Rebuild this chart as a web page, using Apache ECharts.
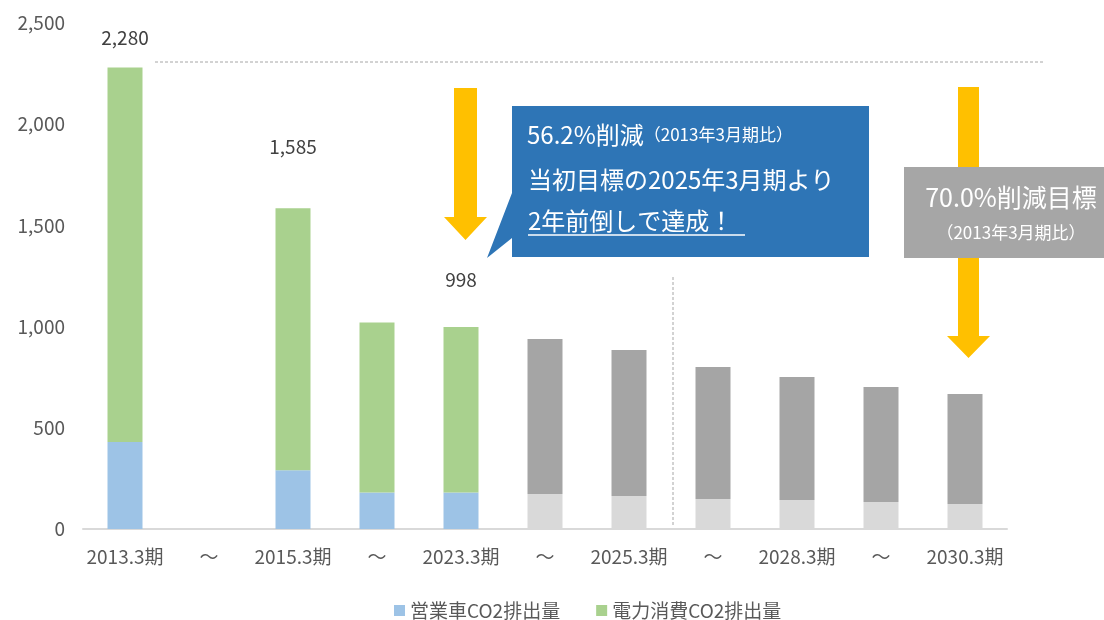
<!DOCTYPE html>
<html>
<head>
<meta charset="utf-8">
<script src="https://cdn.jsdelivr.net/npm/echarts@6/dist/echarts.min.js"></script>
<style>
  html, body { margin: 0; padding: 0; background: #fff; }
  #chart { width: 1104px; height: 620px; }
</style>
</head>
<body>
<div id="chart"></div>
<script>
// 期ごとのCO2排出量（実績）
const categories = ['2013.3期', '～', '2015.3期', '～', '2023.3期', '～', '2025.3期', '～', '2028.3期', '～', '2030.3期'];
const vehicleCO2 = [430, '-', 290, 180, 180, '-', '-', '-', '-', '-', '-'];
const powerCO2 = [1850, '-', 1295, 840, 818, '-', '-', '-', '-', '-', '-'];
// 見通し（グレー）
const vehicleForecast = ['-', '-', '-', '-', '-', 173, 163, 148, 143, 133, 124];
const powerForecast = ['-', '-', '-', '-', '-', 766, 721, 652, 608, 569, 543];
// 合計ラベル
const totalLabels = ['2,280', '', '1,585', '', '998', '', '', '', '', '', ''];

const FONT = '"Noto Sans CJK JP", "Noto Sans", sans-serif';
const labelLift = [15, 0, 47, 0, 33, 0, 0, 0, 0, 0, 0];

const chart = echarts.init(document.getElementById('chart'));

const powerData = powerCO2.map((v, i) => totalLabels[i] ? {
  value: v,
  label: {
    show: true,
    position: 'top',
    formatter: totalLabels[i],
    offset: [0, -labelLift[i]],
    color: '#404040',
    fontSize: 19,
    fontFamily: FONT
  }
} : v);

chart.setOption({
  animation: false,
  textStyle: { fontFamily: FONT },
  grid: { left: 83, right: 97, top: 23, bottom: 91 },
  legend: {
    data: ['営業車CO2排出量', '電力消費CO2排出量'],
    left: 389,
    top: 596,
    icon: 'rect',
    itemWidth: 11,
    itemHeight: 11,
    itemGap: 36,
    textStyle: { color: '#595959', fontSize: 19, fontFamily: FONT }
  },
  xAxis: {
    type: 'category',
    data: categories,
    axisLine: { lineStyle: { color: '#d9d9d9', width: 2 } },
    axisTick: { show: false },
    axisLabel: { color: '#595959', fontSize: 19, margin: 18, interval: 0 }
  },
  yAxis: {
    type: 'value',
    min: 0,
    max: 2500,
    interval: 500,
    splitLine: { show: false },
    axisLine: { show: false },
    axisTick: { show: false },
    axisLabel: {
      color: '#595959',
      fontSize: 19,
      margin: 18,
      formatter: v => v.toLocaleString('en-US')
    }
  },
  series: [
    { name: '営業車CO2排出量', type: 'bar', stack: 'co2', barWidth: 35,
      itemStyle: { color: '#9DC3E6' }, data: vehicleCO2 },
    { name: '電力消費CO2排出量', type: 'bar', stack: 'co2', barWidth: 35,
      itemStyle: { color: '#A9D18E' }, data: powerData },
    { name: '営業車（見通し）', type: 'bar', stack: 'co2', barWidth: 35,
      itemStyle: { color: '#D9D9D9' }, data: vehicleForecast },
    { name: '電力消費（見通し）', type: 'bar', stack: 'co2', barWidth: 35,
      itemStyle: { color: '#A5A5A5' }, data: powerForecast }
  ],
  graphic: [
    // 2013年3月期の水準線
    { type: 'line', shape: { x1: 155, y1: 62, x2: 1045, y2: 62 }, z: 10,
      style: { stroke: '#a6a6a6', lineWidth: 1, lineDash: [3, 2] } },
    // 実績と見通しの境目
    { type: 'line', shape: { x1: 673, y1: 277, x2: 673, y2: 527 }, z: 10,
      style: { stroke: '#a6a6a6', lineWidth: 1, lineDash: [3, 2] } },
    // 矢印1
    { type: 'polygon', z: 10,
      shape: { points: [[454, 88], [477, 88], [477, 217], [487, 217], [465.5, 240], [444, 217], [454, 217]] },
      style: { fill: '#FFC000' } },
    // 矢印2
    { type: 'polygon', z: 10,
      shape: { points: [[958, 87], [979, 87], [979, 336], [990, 336], [968.5, 358], [947, 336], [958, 336]] },
      style: { fill: '#FFC000' } },
    // 吹き出し（青）
    { type: 'polygon', z: 11,
      shape: { points: [[512, 106], [869, 106], [869, 257], [512, 257], [512, 238], [487, 258], [512, 193]] },
      style: { fill: '#2E75B6' } },
    { type: 'text', z: 12, x: 527, y: 135,
      style: {
        text: '{a|56.2%削減}{b|（2013年3月期比）}',
        verticalAlign: 'middle',
        rich: {
          a: { fill: '#fff', fontSize: 24, fontFamily: FONT },
          b: { fill: '#fff', fontSize: 17, fontFamily: FONT }
        }
      } },
    { type: 'text', z: 12, x: 528, y: 180,
      style: { text: '当初目標の2025年3月期より', fill: '#fff', fontSize: 24, fontFamily: FONT, verticalAlign: 'middle' } },
    { type: 'text', z: 12, x: 528, y: 221,
      style: { text: '2年前倒しで達成！', fill: '#fff', fontSize: 24, fontFamily: FONT, verticalAlign: 'middle' } },
    { type: 'line', z: 12, shape: { x1: 528, y1: 235, x2: 745, y2: 235 },
      style: { stroke: '#fff', lineWidth: 1.5 } },
    // 目標ボックス（グレー）
    { type: 'rect', z: 11, shape: { x: 904, y: 167, width: 200, height: 91 },
      style: { fill: '#A6A6A6' } },
    { type: 'text', z: 12, x: 1011, y: 197,
      style: { text: '70.0%削減目標', fill: '#fff', fontSize: 25, fontFamily: FONT, align: 'center', verticalAlign: 'middle' } },
    { type: 'text', z: 12, x: 1011, y: 233,
      style: { text: '（2013年3月期比）', fill: '#fff', fontSize: 17, fontFamily: FONT, align: 'center', verticalAlign: 'middle' } }
  ]
});
</script>
</body>
</html>
